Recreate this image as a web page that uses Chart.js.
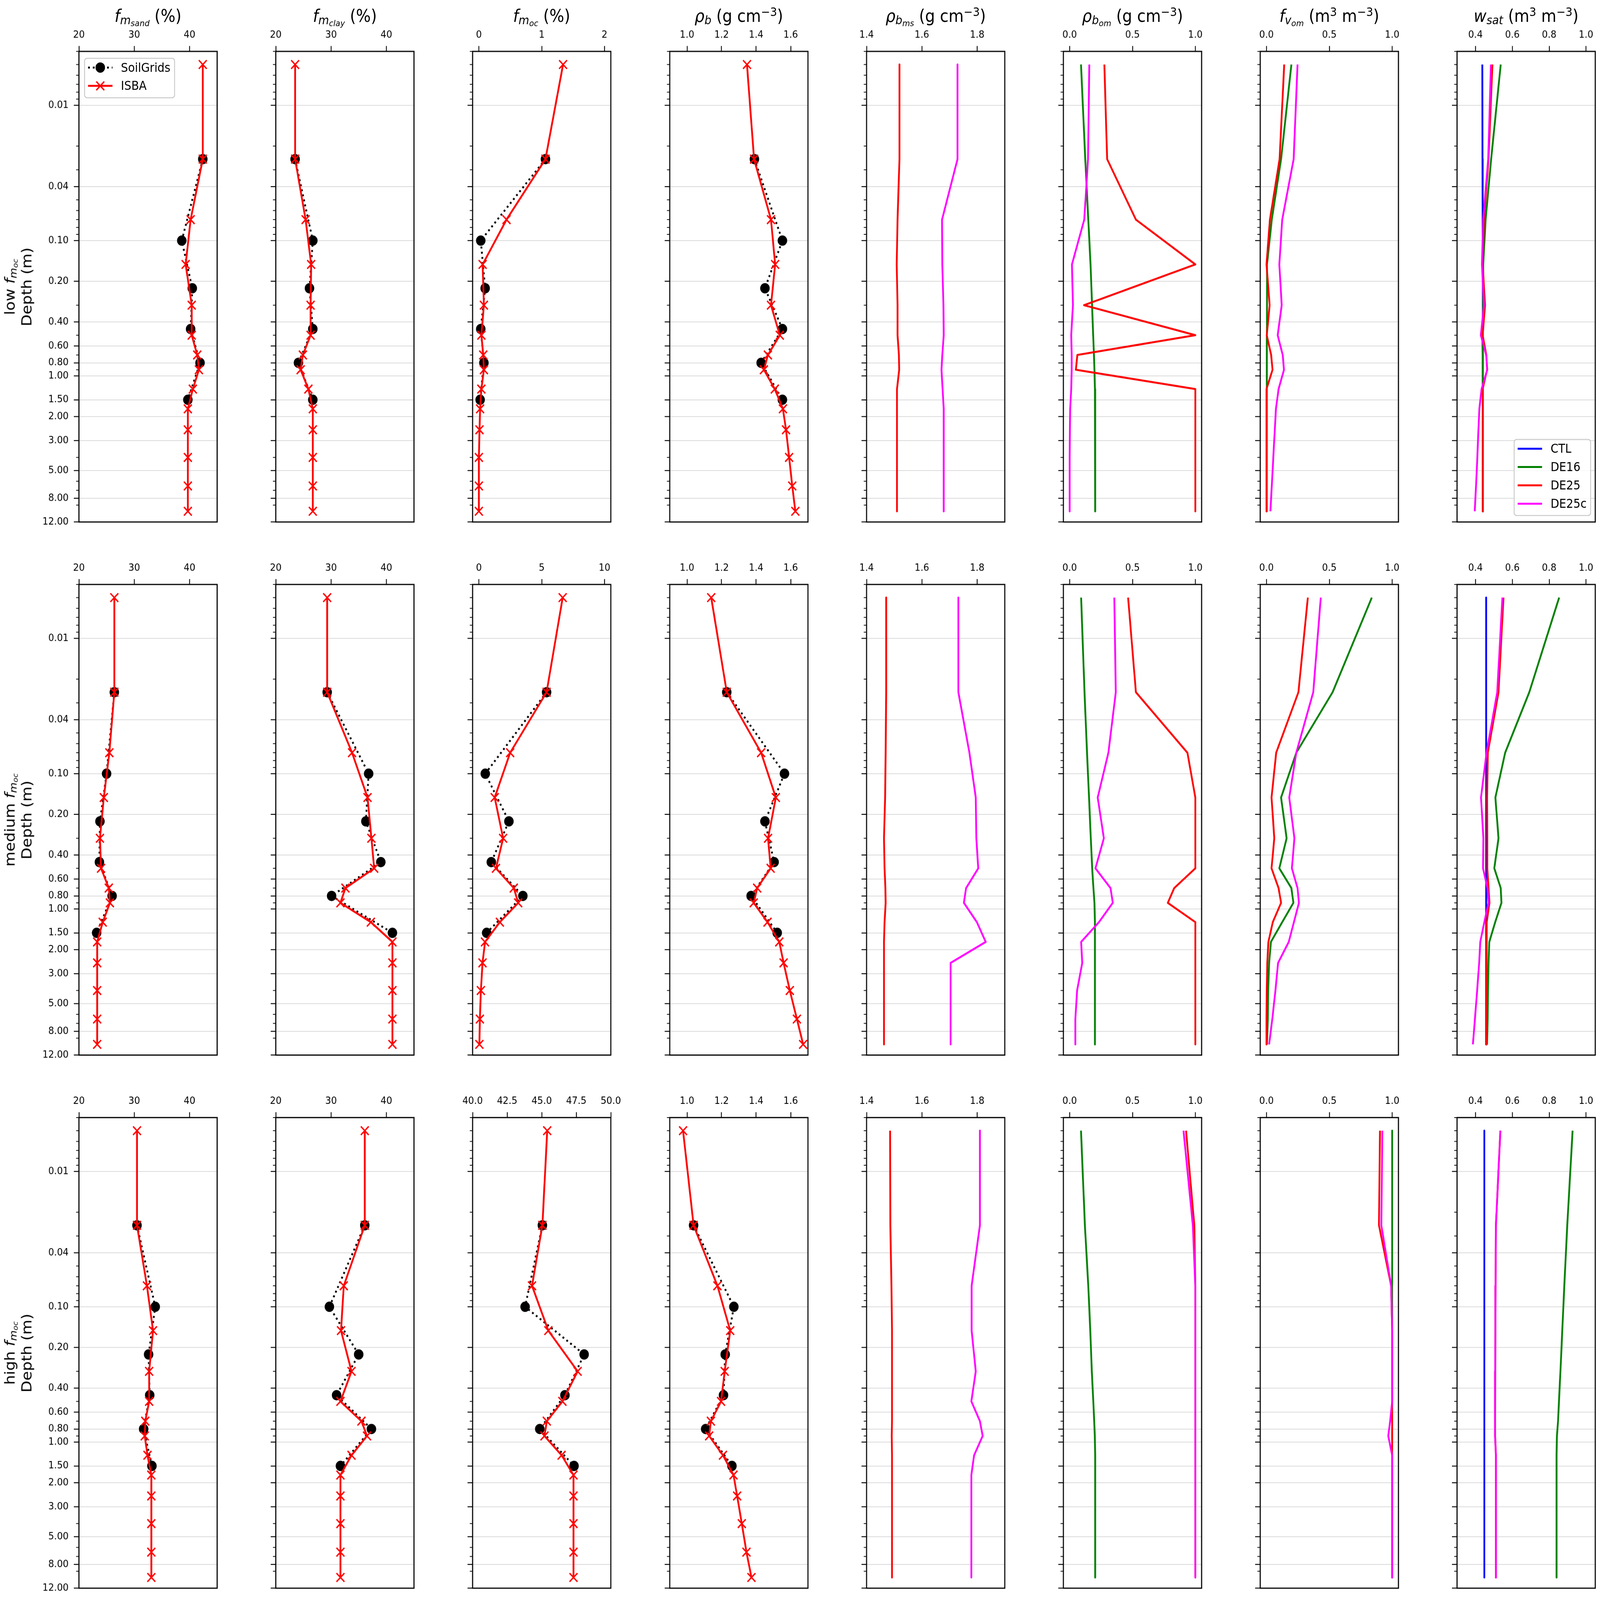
<!DOCTYPE html>
<html>
<head>
<meta charset="utf-8">
<script src="https://cdn.jsdelivr.net/npm/chart.js@4.4.0/dist/chart.umd.min.js"></script>
<style>
  html, body { margin: 0; padding: 0; background: #fff; overflow: hidden; }
  #fig { position: absolute; left: 0; top: 0; width: 4723px; height: 4328px; overflow: hidden; background: #fff;
         font-family: 'DejaVu Sans', sans-serif; color: #000; transform-origin: 0 0; }
  #fig canvas { position: absolute; }
  .title { position: absolute; font-size: 46px; line-height: 46px; white-space: nowrap; transform: translateX(-50%); }
  .rowlab { position: absolute; font-size: 41.7px; line-height: 50px; white-space: nowrap; text-align: center;
            transform: translate(-50%, -50%) rotate(-90deg); }
  .sub { font-size: 0.7em; position: relative; top: 0.2em; line-height: 0; }
  .sub .sub { font-size: 0.72em; top: 0.22em; }
  .sup { font-size: 0.7em; position: relative; top: -0.5em; line-height: 0; }
  .leg { position: absolute; }
  .legtxt { position: absolute; font-size: 33px; line-height: 40px; white-space: nowrap; }
</style>
</head>
<body>
<div id="fig"></div>
<script>
// depths (m) of the ISBA nodes and SoilGrids layer centres
const isbaDepth = [0.005, 0.025, 0.07, 0.15, 0.30, 0.50, 0.70, 0.90, 1.25, 1.75, 2.5, 4.0, 6.5, 10.0];
const sgDepth = [0.025, 0.1, 0.225, 0.45, 0.8, 1.5];
const depthTicks = [0.01, 0.04, 0.1, 0.2, 0.4, 0.6, 0.8, 1, 1.5, 2, 3, 5, 8, 12];
const depthMinor = [0.004, 0.005, 0.006, 0.007, 0.008, 0.009, 0.02, 0.03, 0.05, 0.06, 0.07, 0.08, 0.09,
                    0.3, 0.5, 0.7, 0.9, 4, 6, 7, 9];
const rowNames = ['low', 'medium', 'high'];
const expNames = ['CTL', 'DE16', 'DE25', 'DE25c'];

// x ranges and ticks
const sandRange = [20, 45], sandTicks = [20, 30, 40];
const clayRange = [20, 45], clayTicks = [20, 30, 40];
const ocRange = [[-0.1, 2.1], [-0.5, 10.5], [40, 50]];
const ocTicks = [[0, 1, 2], [0, 5, 10], [40, 42.5, 45, 47.5, 50]];
const rhoRange = [0.9, 1.7], rhoTicks = [1.0, 1.2, 1.4, 1.6];
const rhoMsRange = [1.4, 1.9], rhoMsTicks = [1.4, 1.6, 1.8];
const rhoOmRange = [-0.05, 1.05], rhoOmTicks = [0, 0.5, 1];
const fvomRange = [-0.05, 1.05], fvomTicks = [0, 0.5, 1];
const wsatRange = [0.3, 1.05], wsatTicks = [0.4, 0.6, 0.8, 1.0];

// ---- low f_moc ----
const sandIsbaLow = [42.4, 42.4, 40.2, 39.3, 40.4, 40.4, 41.4, 41.7, 40.6, 39.7, 39.7, 39.7, 39.7, 39.7];
const sandSgLow = [42.4, 38.6, 40.5, 40.2, 41.9, 39.7];
const clayIsbaLow = [23.5, 23.5, 25.4, 26.4, 26.3, 26.3, 24.9, 24.5, 25.9, 26.7, 26.7, 26.7, 26.7, 26.7];
const claySgLow = [23.5, 26.7, 26.1, 26.7, 24.1, 26.7];
const ocIsbaLow = [1.34, 1.06, 0.44, 0.06, 0.08, 0.04, 0.07, 0.08, 0.04, 0.02, 0.01, 0.0, 0.0, 0.0];
const ocSgLow = [1.06, 0.03, 0.10, 0.03, 0.08, 0.02];
const rhoIsbaLow = [1.347, 1.388, 1.486, 1.51, 1.486, 1.537, 1.468, 1.445, 1.508, 1.555, 1.573, 1.591, 1.609, 1.627];
const rhoSgLow = [1.39, 1.552, 1.451, 1.552, 1.429, 1.552];
const rhoMsDE25Low = [1.519, 1.519, 1.512, 1.509, 1.512, 1.512, 1.517, 1.518, 1.51, 1.51, 1.51, 1.51, 1.51, 1.51];
const rhoMsDE25cLow = [1.729, 1.729, 1.673, 1.674, 1.678, 1.679, 1.674, 1.671, 1.675, 1.679, 1.679, 1.679, 1.679, 1.679];
const rhoOmDE16Low = [0.09, 0.124, 0.148, 0.166, 0.178, 0.187, 0.193, 0.197, 0.201, 0.203, 0.203, 0.203, 0.203, 0.203];
const rhoOmDE25Low = [0.276, 0.298, 0.527, 1.0, 0.114, 1.0, 0.061, 0.049, 1.0, 1.0, 1.0, 1.0, 1.0, 1.0];
const rhoOmDE25cLow = [0.156, 0.146, 0.116, 0.018, 0.026, 0.012, 0.016, 0.016, 0.012, 0.004, 0.002, 0.0, 0.0, 0.0];
const fvomDE16Low = [0.198, 0.116, 0.042, 0.004, 0.004, 0.003, 0.003, 0.003, 0.002, 0.002, 0.002, 0.002, 0.002, 0.002];
const fvomDE25Low = [0.141, 0.104, 0.027, 0.0, 0.025, 0.002, 0.037, 0.048, 0.0, 0.0, 0.0, 0.0, 0.0, 0.0];
const fvomDE25cLow = [0.247, 0.216, 0.125, 0.102, 0.121, 0.089, 0.129, 0.139, 0.096, 0.075, 0.066, 0.054, 0.042, 0.031];
const wsatCTLLow = [0.437, 0.438, 0.439, 0.44, 0.44, 0.44, 0.44, 0.44, 0.44, 0.44, 0.44, 0.44, 0.44, 0.44];
const wsatDE16Low = [0.537, 0.485, 0.455, 0.442, 0.442, 0.437, 0.439, 0.439, 0.439, 0.44, 0.44, 0.44, 0.44, 0.44];
const wsatDE25Low = [0.492, 0.471, 0.446, 0.439, 0.452, 0.439, 0.459, 0.463, 0.439, 0.44, 0.44, 0.44, 0.44, 0.44];
const wsatDE25cLow = [0.484, 0.469, 0.442, 0.435, 0.446, 0.429, 0.458, 0.464, 0.433, 0.421, 0.416, 0.41, 0.403, 0.396];

// ---- medium f_moc ----
const sandIsbaMed = [26.4, 26.4, 25.5, 24.5, 23.8, 24.0, 25.4, 25.6, 24.3, 23.3, 23.3, 23.3, 23.3, 23.3];
const sandSgMed = [26.4, 25.0, 23.8, 23.7, 26.0, 23.2];
const clayIsbaMed = [29.3, 29.3, 33.8, 36.6, 37.3, 37.8, 32.6, 31.7, 37.2, 41.1, 41.1, 41.1, 41.1, 41.1];
const claySgMed = [29.3, 36.8, 36.3, 39.0, 30.1, 41.1];
const ocIsbaMed = [6.67, 5.39, 2.49, 1.26, 1.93, 1.36, 2.78, 3.13, 1.67, 0.49, 0.29, 0.16, 0.08, 0.04];
const ocSgMed = [5.39, 0.51, 2.39, 0.99, 3.5, 0.62];
const rhoIsbaMed = [1.14, 1.23, 1.429, 1.514, 1.469, 1.484, 1.406, 1.386, 1.466, 1.534, 1.559, 1.595, 1.636, 1.672];
const rhoSgMed = [1.23, 1.564, 1.451, 1.504, 1.371, 1.522];
const rhoMsDE25Med = [1.471, 1.471, 1.469, 1.467, 1.463, 1.465, 1.468, 1.469, 1.465, 1.463, 1.463, 1.463, 1.463, 1.463];
const rhoMsDE25cMed = [1.732, 1.732, 1.772, 1.795, 1.797, 1.804, 1.76, 1.752, 1.799, 1.831, 1.704, 1.704, 1.704, 1.704];
const rhoOmDE16Med = [0.091, 0.118, 0.138, 0.154, 0.168, 0.179, 0.189, 0.197, 0.201, 0.201, 0.201, 0.201, 0.201, 0.201];
const rhoOmDE25Med = [0.465, 0.527, 0.937, 1.0, 1.0, 1.0, 0.832, 0.781, 1.0, 1.0, 1.0, 1.0, 1.0, 1.0];
const rhoOmDE25cMed = [0.355, 0.367, 0.308, 0.223, 0.272, 0.205, 0.325, 0.343, 0.233, 0.091, 0.1, 0.059, 0.045, 0.045];
const fvomDE16Med = [0.838, 0.526, 0.237, 0.116, 0.16, 0.102, 0.198, 0.214, 0.125, 0.035, 0.021, 0.013, 0.01, 0.004];
const fvomDE25Med = [0.329, 0.254, 0.077, 0.04, 0.062, 0.04, 0.096, 0.116, 0.05, 0.015, 0.006, 0.002, 0.0, 0.0];
const fvomDE25cMed = [0.432, 0.372, 0.237, 0.181, 0.222, 0.202, 0.247, 0.258, 0.218, 0.177, 0.092, 0.071, 0.046, 0.021];
const wsatCTLMed = [0.458, 0.458, 0.458, 0.458, 0.458, 0.458, 0.458, 0.458, 0.458, 0.458, 0.458, 0.458, 0.458, 0.458];
const wsatDE16Med = [0.854, 0.692, 0.561, 0.508, 0.525, 0.502, 0.537, 0.541, 0.507, 0.475, 0.471, 0.468, 0.466, 0.463];
const wsatDE25Med = [0.552, 0.525, 0.467, 0.463, 0.464, 0.464, 0.471, 0.476, 0.461, 0.461, 0.461, 0.461, 0.461, 0.461];
const wsatDE25cMed = [0.546, 0.518, 0.46, 0.43, 0.443, 0.441, 0.465, 0.471, 0.448, 0.426, 0.42, 0.409, 0.397, 0.386];

// ---- high f_moc ----
const sandIsbaHigh = [30.5, 30.5, 32.3, 33.4, 32.7, 32.7, 32.0, 31.9, 32.4, 33.1, 33.1, 33.1, 33.1, 33.1];
const sandSgHigh = [30.5, 33.8, 32.6, 32.8, 31.7, 33.2];
const clayIsbaHigh = [36.1, 36.1, 32.3, 31.8, 33.7, 31.7, 35.5, 36.5, 33.7, 31.7, 31.7, 31.7, 31.7, 31.7];
const claySgHigh = [36.1, 29.7, 35.0, 31.0, 37.3, 31.7];
const ocIsbaHigh = [45.4, 45.05, 44.3, 45.48, 47.6, 46.5, 45.37, 45.2, 46.44, 47.3, 47.3, 47.3, 47.3, 47.3];
const ocSgHigh = [45.05, 43.8, 48.07, 46.68, 44.86, 47.34];
const rhoIsbaHigh = [0.977, 1.038, 1.176, 1.25, 1.218, 1.197, 1.138, 1.128, 1.208, 1.269, 1.29, 1.317, 1.344, 1.373];
const rhoSgHigh = [1.038, 1.271, 1.221, 1.211, 1.108, 1.26];
const rhoMsDE25High = [1.485, 1.486, 1.49, 1.492, 1.492, 1.492, 1.492, 1.491, 1.492, 1.492, 1.492, 1.492, 1.492, 1.492];
const rhoMsDE25cHigh = [1.81, 1.81, 1.78, 1.78, 1.795, 1.779, 1.81, 1.82, 1.789, 1.779, 1.779, 1.779, 1.779, 1.779];
const rhoOmDE16High = [0.09, 0.121, 0.148, 0.164, 0.176, 0.188, 0.195, 0.2, 0.203, 0.203, 0.203, 0.203, 0.203, 0.203];
const rhoOmDE25High = [0.926, 0.992, 1.0, 1.0, 1.0, 1.0, 1.0, 1.0, 1.0, 1.0, 1.0, 1.0, 1.0, 1.0];
const rhoOmDE25cHigh = [0.906, 0.98, 1.0, 1.0, 1.0, 1.0, 1.0, 1.0, 1.0, 1.0, 1.0, 1.0, 1.0, 1.0];
const fvomDE16High = [1.0, 1.0, 1.0, 1.0, 1.0, 1.0, 1.0, 1.0, 1.0, 1.0, 1.0, 1.0, 1.0, 1.0];
const fvomDE25High = [0.903, 0.895, 0.992, 1.0, 1.0, 1.0, 1.0, 1.0, 1.0, 1.0, 1.0, 1.0, 1.0, 1.0];
const fvomDE25cHigh = [0.922, 0.914, 0.992, 1.0, 1.0, 1.0, 0.984, 0.969, 1.0, 1.0, 1.0, 1.0, 1.0, 1.0];
const wsatCTLHigh = [0.448, 0.448, 0.448, 0.448, 0.448, 0.448, 0.448, 0.448, 0.448, 0.448, 0.448, 0.448, 0.448, 0.448];
const wsatDE16High = [0.927, 0.898, 0.882, 0.871, 0.861, 0.853, 0.848, 0.842, 0.84, 0.84, 0.84, 0.84, 0.84, 0.84];
const wsatDE25High = [0.535, 0.511, 0.509, 0.508, 0.507, 0.507, 0.506, 0.506, 0.511, 0.511, 0.511, 0.511, 0.511, 0.511];
const wsatDE25cHigh = [0.535, 0.511, 0.509, 0.508, 0.507, 0.507, 0.506, 0.506, 0.511, 0.511, 0.511, 0.511, 0.511, 0.511];

// layout (px, in figure units)
const FIG_W = 4723, FIG_H = 4328;
const FRAME_LEFT = 233, COL_STEP = 581.2, FRAME_W = 408;
const FRAME_TOP = 139, ROW_STEP = 1442, FRAME_H = 1273;
const MT = 75, MR = 45, MB = 30;
const LW = 5.3;

const expColor = { CTL: '#0000ff', DE16: '#008000', DE25: '#ff0000', DE25c: '#ff00ff' };
const expOrder = { CTL: 4, DE16: 3, DE25: 2, DE25c: 1 };

const sub = (a, b) => `<span class="sub"><i>${a}</i>${b ? `<span class="sub"><i>${b}</i></span>` : ''}</span>`;
const titles = [
    `<i>f</i>${sub('m', 'sand')} (%)`,
    `<i>f</i>${sub('m', 'clay')} (%)`,
    `<i>f</i>${sub('m', 'oc')} (%)`,
    `<i>ρ</i>${sub('b')} (g cm<span class="sup">−3</span>)`,
    `<i>ρ</i>${sub('b', 'ms')} (g cm<span class="sup">−3</span>)`,
    `<i>ρ</i>${sub('b', 'om')} (g cm<span class="sup">−3</span>)`,
    `<i>f</i>${sub('v', 'om')} (m<span class="sup">3</span> m<span class="sup">−3</span>)`,
    `<i>w</i>${sub('sat')} (m<span class="sup">3</span> m<span class="sup">−3</span>)`
];

const pts = (depths, vals) => vals.map((v, i) => ({ x: v, y: depths[i] }));

function isbaSet(vals) {
    return {
        label: 'ISBA', data: pts(isbaDepth, vals), showLine: true,
        borderColor: '#ff0000', borderWidth: LW, borderJoinStyle: 'round',
        pointStyle: 'crossRot', pointRadius: 16.5, pointBorderColor: '#ff0000', pointBorderWidth: 4,
        order: 1
    };
}
function sgSet(vals) {
    return {
        label: 'SoilGrids', data: pts(sgDepth, vals), showLine: true,
        borderColor: '#000', borderWidth: LW, borderDash: [5.3, 8.7], borderCapStyle: 'butt',
        pointStyle: 'circle', pointRadius: 12, pointBackgroundColor: '#000', pointBorderColor: '#000',
        pointBorderWidth: 4, order: 2
    };
}
function expSet(name, vals) {
    return {
        label: name, data: pts(isbaDepth, vals), showLine: true,
        borderColor: expColor[name], borderWidth: LW, borderJoinStyle: 'round',
        pointRadius: 0, order: expOrder[name]
    };
}

function panel(r, c) {
    const pick = (low, med, high) => [low, med, high][r];
    switch (c) {
        case 0: return { range: sandRange, ticks: sandTicks, dec: 0,
            sets: [isbaSet(pick(sandIsbaLow, sandIsbaMed, sandIsbaHigh)), sgSet(pick(sandSgLow, sandSgMed, sandSgHigh))] };
        case 1: return { range: clayRange, ticks: clayTicks, dec: 0,
            sets: [isbaSet(pick(clayIsbaLow, clayIsbaMed, clayIsbaHigh)), sgSet(pick(claySgLow, claySgMed, claySgHigh))] };
        case 2: return { range: ocRange[r], ticks: ocTicks[r], dec: r === 2 ? 1 : 0,
            sets: [isbaSet(pick(ocIsbaLow, ocIsbaMed, ocIsbaHigh)), sgSet(pick(ocSgLow, ocSgMed, ocSgHigh))] };
        case 3: return { range: rhoRange, ticks: rhoTicks, dec: 1,
            sets: [isbaSet(pick(rhoIsbaLow, rhoIsbaMed, rhoIsbaHigh)), sgSet(pick(rhoSgLow, rhoSgMed, rhoSgHigh))] };
        case 4: return { range: rhoMsRange, ticks: rhoMsTicks, dec: 1,
            sets: [expSet('DE25', pick(rhoMsDE25Low, rhoMsDE25Med, rhoMsDE25High)),
                   expSet('DE25c', pick(rhoMsDE25cLow, rhoMsDE25cMed, rhoMsDE25cHigh))] };
        case 5: return { range: rhoOmRange, ticks: rhoOmTicks, dec: 1,
            sets: [expSet('DE16', pick(rhoOmDE16Low, rhoOmDE16Med, rhoOmDE16High)),
                   expSet('DE25', pick(rhoOmDE25Low, rhoOmDE25Med, rhoOmDE25High)),
                   expSet('DE25c', pick(rhoOmDE25cLow, rhoOmDE25cMed, rhoOmDE25cHigh))] };
        case 6: return { range: fvomRange, ticks: fvomTicks, dec: 1,
            sets: [expSet('DE16', pick(fvomDE16Low, fvomDE16Med, fvomDE16High)),
                   expSet('DE25', pick(fvomDE25Low, fvomDE25Med, fvomDE25High)),
                   expSet('DE25c', pick(fvomDE25cLow, fvomDE25cMed, fvomDE25cHigh))] };
        default: return { range: wsatRange, ticks: wsatTicks, dec: 1,
            sets: [expSet('CTL', pick(wsatCTLLow, wsatCTLMed, wsatCTLHigh)),
                   expSet('DE16', pick(wsatDE16Low, wsatDE16Med, wsatDE16High)),
                   expSet('DE25', pick(wsatDE25Low, wsatDE25Med, wsatDE25High)),
                   expSet('DE25c', pick(wsatDE25cLow, wsatDE25cMed, wsatDE25cHigh))] };
    }
}

// spines and minor depth ticks
const frameAndMinor = {
    id: 'frameAndMinor',
    afterDraw(chart) {
        const { ctx, chartArea: a } = chart;
        const y = chart.scales.y;
        ctx.save();
        ctx.strokeStyle = '#000';
        ctx.lineWidth = 2;
        ctx.beginPath();
        depthMinor.forEach(v => {
            const py = y.getPixelForValue(v);
            ctx.moveTo(a.left - 8.3, py);
            ctx.lineTo(a.left, py);
        });
        ctx.stroke();
        ctx.lineWidth = 3.2;
        ctx.strokeRect(a.left, a.top, a.right - a.left, a.bottom - a.top);
        ctx.restore();
    }
};

const fig = document.getElementById('fig');
// the real window can be smaller than the figure: stretch the figure to fill it
const sx = window.innerWidth / FIG_W, sy = window.innerHeight / FIG_H;
fig.style.transform = `scale(${sx}, ${sy})`;

const tickFont = { family: 'DejaVu Sans', size: 27 };

for (let r = 0; r < 3; r++) {
    for (let c = 0; c < 8; c++) {
        const fl = Math.round(FRAME_LEFT + c * COL_STEP);
        const ft = FRAME_TOP + r * ROW_STEP;
        const ml = c === 0 ? fl : 70;
        const w = ml + FRAME_W + MR, h = MT + FRAME_H + MB;
        const canvas = document.createElement('canvas');
        canvas.width = w; canvas.height = h;
        canvas.style.left = (fl - ml) + 'px';
        canvas.style.top = (ft - MT) + 'px';
        canvas.style.width = w + 'px';
        canvas.style.height = h + 'px';
        fig.appendChild(canvas);

        const p = panel(r, c);
        new Chart(canvas, {
            type: 'scatter',
            data: { datasets: p.sets },
            options: {
                responsive: false,
                devicePixelRatio: 1,
                animation: false,
                events: [],
                layout: { padding: { left: 0, top: 0, right: MR, bottom: MB } },
                plugins: { legend: { display: false }, tooltip: { enabled: false } },
                scales: {
                    x: {
                        type: 'linear', position: 'top', min: p.range[0], max: p.range[1],
                        afterBuildTicks: s => { s.ticks = p.ticks.map(v => ({ value: v })); },
                        afterFit: s => { s.height = MT; s.paddingLeft = 0; s.paddingRight = 0; },
                        ticks: { callback: v => v.toFixed(p.dec), font: tickFont, color: '#000',
                                 padding: 13, maxRotation: 0, autoSkip: false },
                        grid: { drawOnChartArea: false, tickLength: 14.6, tickWidth: 2.5, tickColor: '#000' },
                        border: { display: false }
                    },
                    y: {
                        type: 'logarithmic', position: 'left', reverse: true, min: 0.004, max: 12,
                        afterBuildTicks: s => { s.ticks = depthTicks.map(v => ({ value: v })); },
                        afterFit: s => { s.width = ml; s.paddingTop = 0; s.paddingBottom = 0; },
                        ticks: { callback: v => (c === 0 ? Number(v).toFixed(2) : ''), font: tickFont,
                                 color: '#000', padding: 15.5, autoSkip: false },
                        grid: { color: '#cccccc', lineWidth: 1.6, tickLength: 15, tickWidth: 2.5, tickColor: '#000' },
                        border: { display: false }
                    }
                }
            },
            plugins: [frameAndMinor]
        });

        if (r === 0) {
            const t = document.createElement('div');
            t.className = 'title';
            t.style.left = (fl + FRAME_W / 2) + 'px';
            t.style.top = '20px';
            t.innerHTML = titles[c];
            fig.appendChild(t);
        }
    }
    const lab = document.createElement('div');
    lab.className = 'rowlab';
    lab.style.left = '54px';
    lab.style.top = (FRAME_TOP + r * ROW_STEP + FRAME_H / 2) + 'px';
    lab.innerHTML = `${rowNames[r]} <i>f</i>${sub('m', 'oc')}<br>Depth (m)`;
    fig.appendChild(lab);
}

// legends (HTML, matplotlib style)
function addLegend(left, top, width, entries) {
    const rowH = 49.6;
    const height = 110 + (entries.length - 2) * rowH;
    let svg = `<svg class="leg" style="left:${left}px;top:${top}px" width="${width}" height="${height}">` +
        `<rect x="1.5" y="1.5" width="${width - 3}" height="${height - 3}" rx="8" fill="rgba(255,255,255,0.8)" stroke="#cccccc" stroke-width="3"/>`;
    entries.forEach((e, i) => {
        const cy = 26.7 + i * rowH;
        svg += `<line x1="12" x2="84" y1="${cy}" y2="${cy}" stroke="${e.color}" stroke-width="${LW}"` +
            (e.dash ? ` stroke-dasharray="5.3 8.7"` : '') + '/>';
        if (e.marker === 'o') svg += `<circle cx="48" cy="${cy}" r="12" fill="${e.color}" stroke="${e.color}" stroke-width="4"/>`;
        if (e.marker === 'x') svg += `<path d="M36.3 ${cy - 11.7}L59.7 ${cy + 11.7}M36.3 ${cy + 11.7}L59.7 ${cy - 11.7}" stroke="${e.color}" stroke-width="4"/>`;
    });
    svg += '</svg>';
    fig.insertAdjacentHTML('beforeend', svg);
    entries.forEach((e, i) => {
        const txt = document.createElement('div');
        txt.className = 'legtxt';
        txt.style.left = (left + 109) + 'px';
        txt.style.top = (top + 26.7 + i * rowH - 20) + 'px';
        txt.textContent = e.label;
        fig.appendChild(txt);
    });
}

addLegend(248, 156, 269, [
    { label: 'SoilGrids', color: '#000', dash: true, marker: 'o' },
    { label: 'ISBA', color: '#ff0000', marker: 'x' }
]);
addLegend(4468, 1187, 229, expNames.map(n => ({ label: n, color: expColor[n] })));
</script>
</body>
</html>
